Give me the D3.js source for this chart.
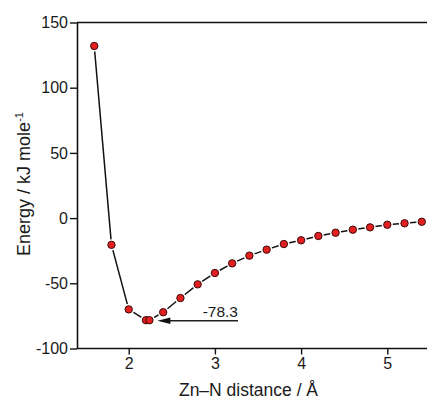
<!DOCTYPE html>
<html>
<head>
<meta charset="utf-8">
<script src="https://cdn.jsdelivr.net/npm/d3@7"></script>
<style>
  body { margin: 0; background: #fff; }
  text { font-family: "Liberation Sans", Arial, sans-serif; fill: #1a1a1a; }
</style>
</head>
<body>
<svg id="chart" width="427" height="401"></svg>
<script>
// Zn-N distance (Angstrom) and energy (kJ/mol)
const distance = [1.6, 1.8, 2.0, 2.2, 2.24, 2.4, 2.6, 2.8, 3.0, 3.2, 3.4, 3.6, 3.8, 4.0, 4.2, 4.4, 4.6, 4.8, 5.0, 5.2, 5.4];
const energy = [132, -20.5, -70, -78.3, -78.3, -72.2, -61.3, -50.8, -42.1, -34.7, -28.8, -24.2, -19.9, -17, -13.7, -11.2, -8.9, -7.1, -5.1, -4.0, -2.8];
const xTicks = [2, 3, 4, 5];
const yTicks = [-100, -50, 0, 50, 100, 150];
const minLabel = "-78.3";

const data = distance.map((d, i) => ({x: d, y: energy[i]}));
const svg = d3.select("#chart");

const xScale = d3.scaleLinear().domain([1.4, 5.5]).range([77, 430.4]);
const yScale = d3.scaleLinear().domain([-100, 150]).range([348.5, 22.5]);

// frame top line
svg.append("line")
    .attr("x1", 77).attr("x2", 427)
    .attr("y1", yScale(150)).attr("y2", yScale(150))
    .attr("stroke", "#111").attr("stroke-width", 1.6);

const xAxis = svg.append("g")
    .attr("transform", "translate(0," + yScale(-100) + ")")
    .call(d3.axisBottom(xScale).tickValues(xTicks).tickFormat(d => String(d))
        .tickSize(6).tickSizeOuter(0).tickPadding(3));
const yAxis = svg.append("g")
    .attr("transform", "translate(" + xScale(1.4) + ",0)")
    .call(d3.axisLeft(yScale).tickValues(yTicks).tickFormat(d => String(d))
        .tickSize(7).tickSizeOuter(0).tickPadding(2));

[xAxis, yAxis].forEach(a => {
    a.select(".domain").attr("stroke", "#111").attr("stroke-width", 1.6);
    a.selectAll(".tick line").attr("stroke", "#111").attr("stroke-width", 1.4);
    a.selectAll(".tick text").style("font-size", "16px").attr("fill", "#1a1a1a");
});
xAxis.select(".domain").attr("d", "M77,0H427");

// curve
const line = d3.line().x(d => xScale(d.x)).y(d => yScale(d.y));
svg.append("path")
    .datum(data)
    .attr("d", line)
    .attr("fill", "none")
    .attr("stroke", "#111")
    .attr("stroke-width", 1.5);

// white halos so the line breaks round each marker
svg.selectAll(".halo")
    .data(data)
    .enter().append("circle")
    .attr("class", "halo")
    .attr("cx", d => xScale(d.x))
    .attr("cy", d => yScale(d.y))
    .attr("r", 5.6)
    .attr("fill", "#fff");

svg.selectAll(".pt")
    .data(data)
    .enter().append("circle")
    .attr("class", "pt")
    .attr("cx", d => xScale(d.x))
    .attr("cy", d => yScale(d.y))
    .attr("r", 3.7)
    .attr("fill", "#e3201f")
    .attr("stroke", "#3b0b0b")
    .attr("stroke-width", 1);

// annotation arrow for the minimum
const minPt = data[4];
const ay = yScale(minPt.y) + 0.5;
const tipX = xScale(minPt.x) + 8;
svg.append("line")
    .attr("x1", tipX + 8).attr("x2", 238)
    .attr("y1", ay).attr("y2", ay)
    .attr("stroke", "#222").attr("stroke-width", 1.4);
svg.append("path")
    .attr("d", "M" + tipX + "," + ay + "L" + (tipX + 13) + "," + (ay - 3.2) + "L" + (tipX + 13) + "," + (ay + 3.2) + "Z")
    .attr("fill", "#111");
svg.append("text")
    .attr("x", 238).attr("y", ay - 4)
    .attr("text-anchor", "end")
    .style("font-size", "15.5px")
    .text(minLabel);

// axis titles
svg.append("text")
    .attr("x", 248.5).attr("y", 396)
    .attr("text-anchor", "middle")
    .style("font-size", "17.5px")
    .text("Zn\u2013N distance / \u00C5");

const yt = svg.append("text")
    .attr("transform", "translate(30,184) rotate(-90)")
    .attr("text-anchor", "middle")
    .style("font-size", "18px");
yt.append("tspan").text("Energy / kJ mole");
yt.append("tspan").attr("dy", -7).style("font-size", "11px").text("-1");
</script>
</body>
</html>
